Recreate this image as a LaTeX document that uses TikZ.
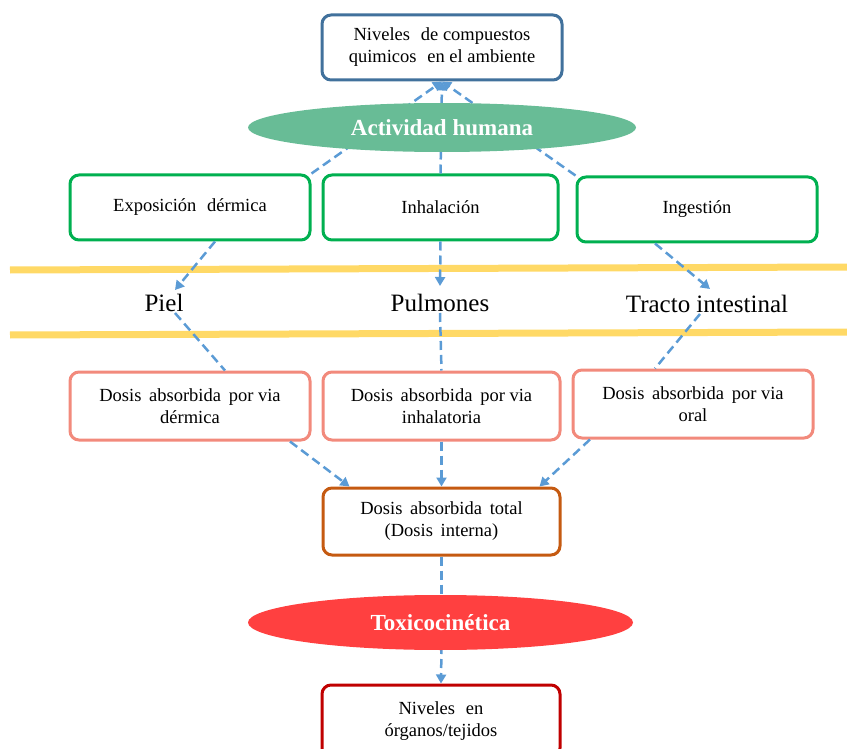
\documentclass[tikz,border=0pt]{standalone}
\usepackage{fontspec}
\setmainfont{Liberation Serif}
\usetikzlibrary{shapes.geometric,arrows.meta}
\definecolor{cblue}{RGB}{65,113,156}
\definecolor{cgreenfill}{RGB}{104,188,150}
\definecolor{cgreen}{RGB}{0,176,80}
\definecolor{cpink}{RGB}{242,138,124}
\definecolor{cbrown}{RGB}{197,90,17}
\definecolor{cred}{RGB}{255,64,64}
\definecolor{cdark}{RGB}{192,0,0}
\definecolor{cyellow}{RGB}{255,217,102}
\definecolor{carrow}{RGB}{91,155,213}
\tikzset{
  boxbase/.style={draw, line width=3pt, rounded corners=9pt, fill=white, align=center,
    font=\fontsize{18.5}{22}\selectfont, inner sep=2pt},
  bluebox/.style={boxbase, draw=cblue},
  greenbox/.style={boxbase, draw=cgreen},
  pinkbox/.style={boxbase, draw=cpink},
  brownbox/.style={boxbase, draw=cbrown},
  darkbox/.style={boxbase, draw=cdark},
  oval/.style={ellipse, draw=none, text=white, font=\fontsize{23}{26}\selectfont\bfseries, inner sep=0pt},
  organ/.style={font=\fontsize{25}{28}\selectfont, inner sep=1pt},
  arr/.style={draw=carrow, line width=2.5pt, dash pattern=on 9pt off 5pt, -{Triangle[length=9pt,width=10pt]}},
  seg/.style={draw=carrow, line width=2.5pt, dash pattern=on 9pt off 5pt},
  band/.style={draw=cyellow, line width=7pt}
}
\begin{document}
\begin{tikzpicture}[x=1pt,y=-1pt]
\useasboundingbox (0,0) rectangle (847,749);
\begin{scope}
\clip (0,0) rectangle (847,749);
% yellow bands
\draw[band] (10,270) -- (847,267);
\draw[band] (10,335) -- (847,332);

% nodes (positions)
\node[bluebox, minimum width=240pt, minimum height=65pt] (top) at (442,47.5) {Niveles\,\, de compuestos\\quimicos\,\, en el ambiente};
\node[greenbox, minimum width=240pt, minimum height=65pt] (exp) at (190,207.5) {Exposición\,\, dérmica};
\node[greenbox, minimum width=235pt, minimum height=65pt] (inh) at (440.5,207.5) {Inhalación};
\node[greenbox, minimum width=240pt, minimum height=65pt] (ing) at (697,209.5) {Ingestión};
\node[organ] (piel) at (164,303) {Piel};
\node[organ] (pulm) at (440,303) {Pulmones};
\node[organ] (tracto) at (707,304) {Tracto intestinal};
\node[pinkbox, minimum width=240pt, minimum height=68pt] (d1) at (190,406) {Dosis\, absorbida\, por via\\dérmica};
\node[pinkbox, minimum width=237pt, minimum height=68pt] (d2) at (441.5,406) {Dosis\, absorbida\, por via\\inhalatoria};
\node[pinkbox, minimum width=240pt, minimum height=68pt] (d3) at (693,404) {Dosis\, absorbida\, por via\\oral};
\node[brownbox, minimum width=237pt, minimum height=67pt] (tot) at (441.5,521.5) {Dosis\, absorbida\, total\\(Dosis\, interna)};
\node[darkbox, minimum width=238pt, minimum height=72pt] (niv) at (441,721) {Niveles\,\, en\\órganos/tejidos};

% arrows (behind ellipses)
\draw[arr] (exp.north east) -- (top.south);
\draw[arr] (inh.north) -- (top.south);
\draw[arr] (ing.north west) -- (top.south);
\draw[arr] ([xshift=25pt]exp.south) -- ([xshift=11pt,yshift=3pt]piel.north);
\draw[arr] (inh.south) -- ([yshift=7pt]pulm.north);
\draw[arr] ([xshift=-42pt]ing.south) -- ([xshift=3pt,yshift=5pt]tracto.north);
\draw[seg] ([xshift=11pt]piel.south) -- ([xshift=35pt]d1.north);
\draw[seg] (pulm.south) -- (d2.north);
\draw[seg] ([xshift=-7pt]tracto.south) -- ([xshift=-38pt]d3.north);
\draw[arr] ([xshift=100pt]d1.south) -- ([xshift=-92pt]tot.north);
\draw[arr] (d2.south) -- (tot.north);
\draw[arr] ([xshift=-103pt]d3.south) -- ([xshift=98pt]tot.north);
\draw[seg] (tot.south) -- (441.5,600);
\draw[arr] (441.5,645) -- (niv.north);

% ellipses on top
\node[oval, fill=cgreenfill, minimum width=388pt, minimum height=49pt] (act) at (442,127.5) {Actividad humana};
\node[oval, fill=cred, minimum width=385pt, minimum height=55pt] (tox) at (440.5,622.5) {Toxicocinética};
\end{scope}
\end{tikzpicture}
\end{document}
